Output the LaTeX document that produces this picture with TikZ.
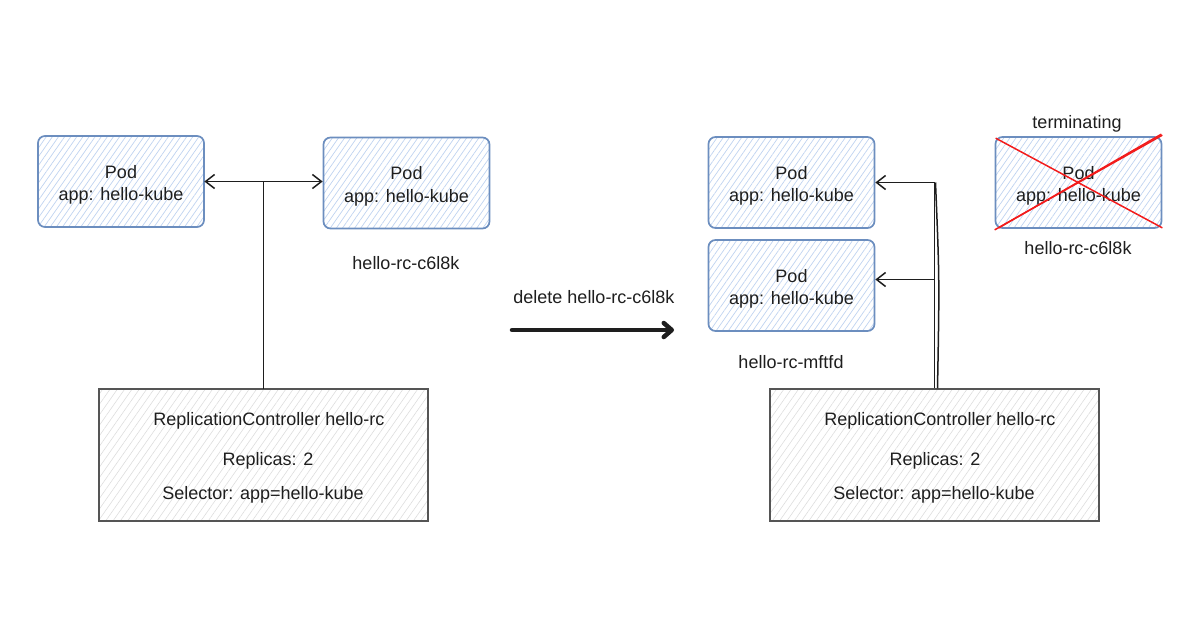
\documentclass[tikz,border=0pt]{standalone}
\usepackage{fontspec}
\setmainfont{Liberation Sans}
\usetikzlibrary{arrows.meta,patterns.meta,positioning}
\definecolor{podblue}{HTML}{6C8EBF}
\definecolor{podhatch}{HTML}{BFD3F0}
\definecolor{rcgray}{HTML}{555555}
\definecolor{rchatch}{HTML}{DDDDDD}
\definecolor{ink}{HTML}{1E1E1E}
\definecolor{xred}{HTML}{F21B1B}
\newcommand{\podtext}{\raisebox{-3.5pt}[\height][\depth]{\begin{tabular}{@{}c@{}}Pod\\app: hello-kube\end{tabular}}}
\tikzset{
  barb/.tip={Straight Barb[length=9pt,width=14pt,line width=1.5pt]},
  txt/.style={font=\fontsize{18}{22.5}\selectfont, text=ink},
  podbox/.style={txt, draw=podblue, line width=1.7pt, rounded corners=7pt,
    minimum width=166pt, minimum height=91pt, align=center,
    pattern={Lines[angle=55,distance=5pt,line width=0.7pt]}, pattern color=podhatch},
  rcbox/.style={draw=rcgray, line width=1.3pt, minimum width=329pt, minimum height=132pt,
    pattern={Lines[angle=55,distance=6pt,line width=0.6pt]}, pattern color=rchatch},
  lbl/.style={txt, anchor=base},
  conn/.style={draw=ink, line width=1.5pt},
  bigarrow/.style={draw=ink, line width=4.5pt, line cap=round,
    -{Straight Barb[length=8pt,width=14pt,round]}},
  cross/.style={draw=xred, line width=1.5pt}
}
\begin{document}
\begin{tikzpicture}[x=1pt,y=-1pt]
\useasboundingbox (0,0) rectangle (1200,630);

% ---------- left state ----------
\node[podbox] (p1) at (121,181.5) {\podtext};
\node[podbox] (p2) at (406.5,183) {\podtext};
\node[lbl] (l1) at (406,269) {hello-rc-c6l8k};

\node[rcbox] (rc1) at (263.5,455) {};
\node[lbl] (rc1a) at (269,425) {ReplicationController hello-rc};
\node[lbl] (rc1b) at (268,465) {Replicas: 2};
\node[lbl] (rc1c) at (263,499) {Selector: app=hello-kube};

\coordinate (j1) at (rc1.north |- p1.east);
\draw[conn] (rc1.north) -- (j1);
\draw[conn, barb-barb] (p1.east) -- (j1) -- (j1 -| p2.west);

% ---------- middle ----------
\node[lbl] (del) at (594,303) {delete hello-rc-c6l8k};
\coordinate (a0) at (512,330);
\coordinate (a1) at (674,330);
\draw[bigarrow] (a0) -- (a1);

% ---------- right state ----------
\node[podbox] (p3) at (791.5,182.5) {\podtext};
\node[podbox] (p4) at (791.5,285.5) {\podtext};
\node[lbl] (l3) at (791,368) {hello-rc-mftfd};

\node[podbox] (p5) at (1078.5,182.5) {\podtext};
\node[lbl] (term) at (1077,128) {terminating};
\node[lbl] (l5) at (1078,254) {hello-rc-c6l8k};
\draw[cross] ([xshift=1pt,yshift=-2pt]p5.north west) -- ([yshift=1pt]p5.south east);
\draw[cross] ([yshift=-1pt]p5.south west) -- ([yshift=1pt]p5.north east);
\draw[cross] ([xshift=4pt,yshift=1pt]p5.south west) -- ([xshift=-1pt,yshift=2pt]p5.north east);

\node[rcbox] (rc2) at (934.5,455) {};
\node[lbl] (rc2a) at (940,425) {ReplicationController hello-rc};
\node[lbl] (rc2b) at (935,465) {Replicas: 2};
\node[lbl] (rc2c) at (934,499) {Selector: app=hello-kube};

\coordinate (j3) at (rc2.north |- p3.east);
\coordinate (j4) at ([yshift=6pt]rc2.north |- p4.east);
\draw[conn] (rc2.north) -- (j3);
\draw[conn] ([xshift=3pt]rc2.north) .. controls ([xshift=5pt]j4) .. ([xshift=1pt]j3);
\draw[conn, -barb] (j3) -- (p3.east);
\draw[conn, -barb] (j4) -- (j4 -| p4.east);
\end{tikzpicture}
\end{document}
